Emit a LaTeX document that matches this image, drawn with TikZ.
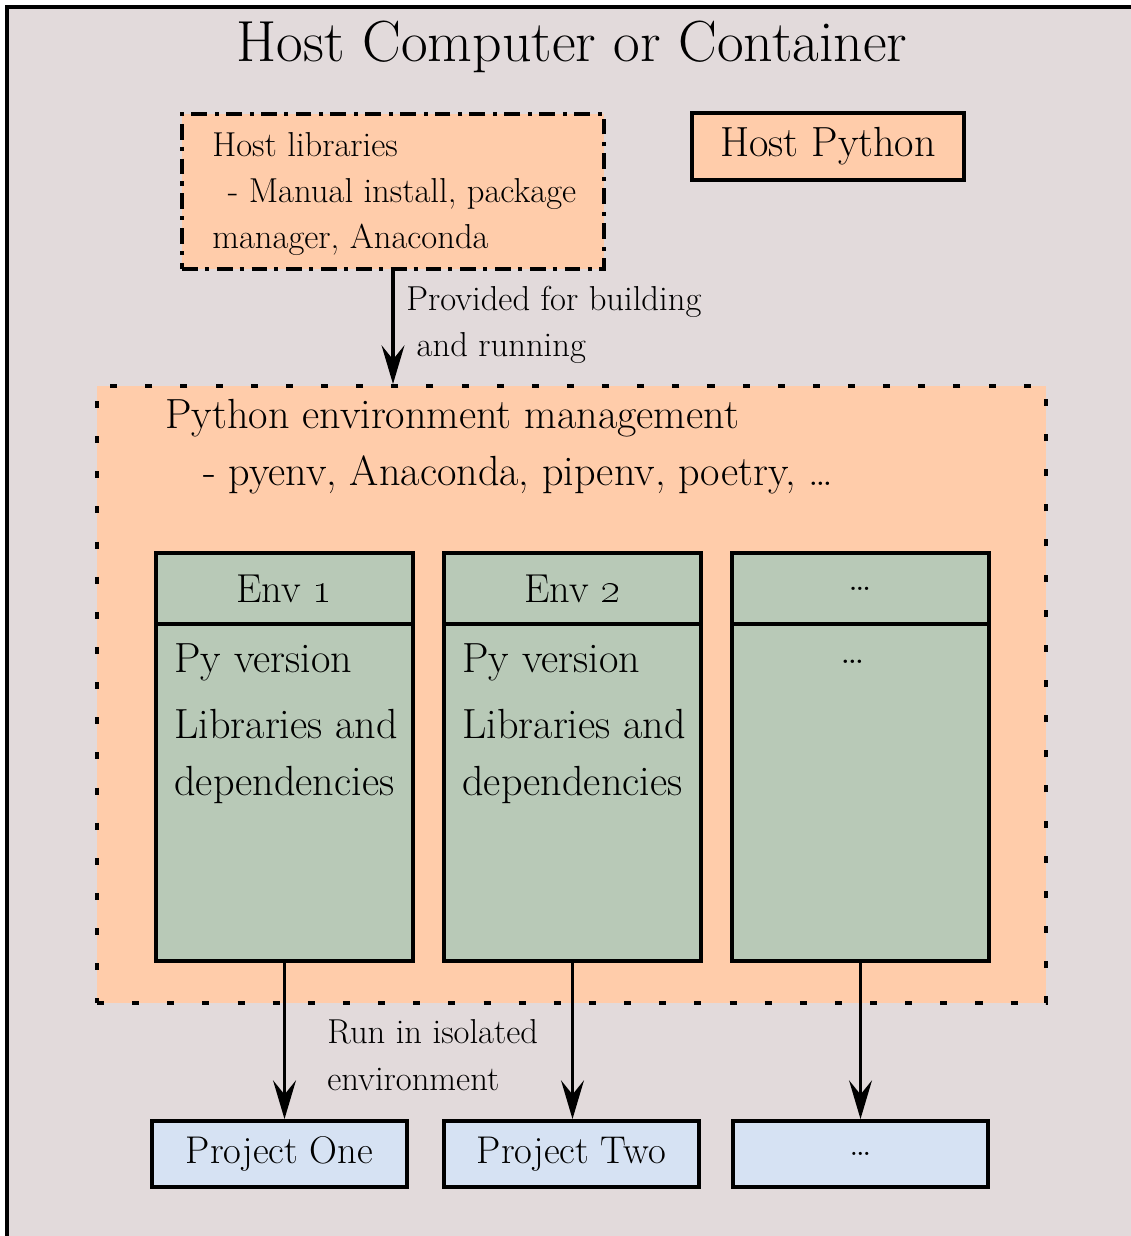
\documentclass[tikz,border=0pt]{standalone}
\usetikzlibrary{arrows.meta,positioning}
\definecolor{hostbg}{RGB}{226,218,219}
\definecolor{mgmtfill}{RGB}{255,204,170}
\definecolor{envfill}{RGB}{184,201,183}
\definecolor{projfill}{RGB}{214,226,243}
\begin{document}
\begin{tikzpicture}[x=0.02cm,y=-0.02cm]

% one pixel of the drawing
\def\u{0.02cm}
% font sizes
\def\big{\fontsize{24}{32.4}\selectfont}
\def\mid{\fontsize{19.7}{26.2}\selectfont}
% node style definition
\tikzstyle{box} = [
	draw, rectangle, line width=2.2pt, inner sep=0pt ];
\tikzstyle{libbox} = [box, fill=mgmtfill,
	dash pattern=on 9pt off 4pt on 2.3pt off 4.5pt ];
\tikzstyle{mgmtbox} = [box, fill=mgmtfill, dash pattern=on 4pt off 16pt ];
\tikzstyle{envhead} = [box, fill=envfill,
	minimum width=257*\u, minimum height=71*\u, font=\fontsize{23}{28}\selectfont ];
\tikzstyle{envbody} = [box, fill=envfill,
	minimum width=257*\u, minimum height=337*\u ];
\tikzstyle{proj} = [box, fill=projfill,
	minimum width=255*\u, minimum height=66*\u, font=\fontsize{22}{26}\selectfont ];
\tikzstyle{plain} = [draw=none, fill=none, inner sep=0pt];
\tikzstyle{link} = [line width=2pt,
	-{Stealth[length=22pt,width=13pt,inset=8pt]}];

\useasboundingbox (0,0) rectangle (1130,1236);
\draw[fill=hostbg, line width=2.6pt] (7,7) rectangle (1150,1260);

\node[plain, anchor=base, font=\fontsize{33}{38}\selectfont] (title) at (572,62)
	{Host Computer or Container};

\node[libbox, minimum width=422*\u, minimum height=155*\u] (libs) at (393,191.5) {};
\node[plain, anchor=base west, align=left, font=\mid] (libtext) at (212,249)
	{Host libraries\\\hspace*{0.45em}- Manual install, package\\manager, Anaconda};
\node[box, fill=mgmtfill, minimum width=272*\u, minimum height=67*\u,
	font=\big] (hostpy) at (828,146.5) {Host Python};

\node[mgmtbox, minimum width=949*\u, minimum height=617*\u] (mgmt) at (571.5,694.5) {};
\node[plain, anchor=base west, font=\big] (mgmttitle) at (165,428)
	{Python environment management};
\node[plain, anchor=base west, font=\big] (mgmttools) at (203,485)
	{- pyenv, Anaconda, pipenv, poetry, \ldots};

\draw[link] (libs) -- (libs.south |- mgmt.north);
\node[plain, anchor=base west, align=left, font=\mid] (provided) at (406,357)
	{Provided for building\\\hspace*{0.3em}and running};

% environments
\node[envhead] (h1) at (284.5,588.5) {Env \oldstylenums{1}};
\node[envbody] (e1) at (284.5,792.5) {};
\node[envhead] (h2) at (572.5,588.5) {Env \oldstylenums{2}};
\node[envbody] (e2) at (572.5,792.5) {};
\node[envhead] (h3) at (860.5,588.5) {\ldots};
\node[envbody] (e3) at (860.5,792.5) {};

\node[plain, anchor=base west, align=left, font=\big] (t1) at (174,795)
	{Py version\\[5.2pt]Libraries and\\dependencies};
\node[plain, anchor=base west, align=left, font=\big] (t2) at (462,795)
	{Py version\\[5.2pt]Libraries and\\dependencies};
\node[plain, anchor=base, font=\big] (t3) at (853,663) {\ldots};

% projects
\node[proj] (p1) at (279.5,1154) {Project One};
\node[proj] (p2) at (571.5,1154) {Project Two};
\node[proj] (p3) at (860.5,1154) {\ldots};

\draw[link] (e1) -- (e1.south |- p1.north);
\draw[link] (e2) -- (e2.south |- p2.north);
\draw[link] (e3) -- (e3.south |- p3.north);
\node[plain, anchor=base west, align=left, font=\mid] (isolated) at (327,1090)
	{Run in isolated\\environment};

\end{tikzpicture}
\end{document}
